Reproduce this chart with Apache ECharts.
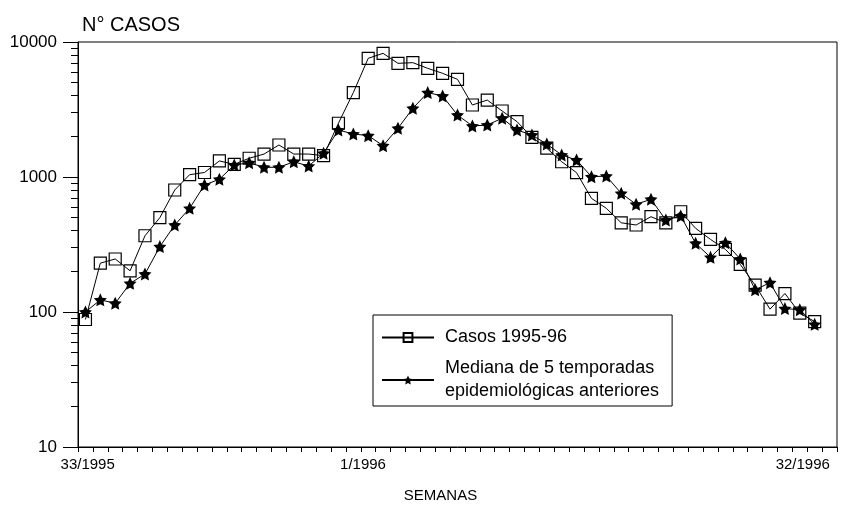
<!DOCTYPE html>
<html>
<head>
<meta charset="utf-8">
<script src="https://cdn.jsdelivr.net/npm/echarts@6/dist/echarts.min.js"></script>
<style>html,body{margin:0;padding:0;background:#fff}#c{width:864px;height:513px}</style>
</head>
<body>
<div id="c"></div>
<script>
// Weekly cases, season 1995-96 (weeks from 33/1995)
const casos = [88,230,247,202,367,500,801,1040,1080,1315,
  1241,1377,1479,1726,1479,1479,1439,2502,4219,7573,
  8240,6950,7030,6380,5860,5290,3415,3715,3083,2570,
  1967,1634,1297,1077,695,586,458,441,508,458,
  553,417,345,291,225,158,105,137,98,85];
// Median of 5 previous seasons
const mediana = [100,123,116,163,191,305,441,586,873,962,
  1227,1277,1180,1180,1297,1205,1500,2228,2083,2025,
  1707,2296,3228,4219,3981,2878,2388,2427,2723,2228,
  2046,1754,1455,1336,1005,1016,757,628,684,480,
  514,323,254,326,247,146,165,106,104,81];
// X tick labels and their place on the week axis
const xTickLabels = ['33/1995','1/1996','32/1996'];
const xTickLabelWeeks = [0.65, 19.15, 48.7];
// Y axis ticks
const yMajorTicks = [10,100,1000,10000];
const yMinorTicks = [20,30,40,50,60,70,80,90,200,300,400,500,600,700,800,900,2000,3000,4000,5000,6000,7000,8000,9000];
const seriesNames = ['Casos 1995-96','Mediana de 5 temporadas\nepidemiológicas anteriores'];

const star = 'path://M0,-10 L2.9,-4 L9.51,-3.09 L4.7,1.5 L5.88,8.09 L0,5 L-5.88,8.09 L-4.7,1.5 L-9.51,-3.09 L-2.9,-4 Z';
const FONT = '"Liberation Sans", Arial, sans-serif';

const GRID = {left: 78, right: 27, top: 42, bottom: 66};
const plotWidth = 864 - GRID.left - GRID.right;

const toPts = arr => arr.map((v, i) => [i + 0.5, v]);
const minorExp = yMinorTicks.map(v => Math.log10(v));

const chart = echarts.init(document.getElementById('c'), null, {renderer: 'canvas'});
chart.setOption({
  animation: false,
  backgroundColor: '#fff',
  textStyle: {fontFamily: FONT, color: '#000'},
  grid: Object.assign({show: true, borderColor: '#000', borderWidth: 1, backgroundColor: 'transparent'}, GRID),
  legend: {
    orient: 'vertical',
    left: 373, top: 315,
    padding: [11, 13, 3, 8],
    itemGap: 8,
    itemWidth: 52, itemHeight: 11,
    borderColor: '#000', borderWidth: 1,
    textStyle: {fontFamily: FONT, fontSize: 18, color: '#000', lineHeight: 23, padding: [0, 0, 0, 6]},
    data: seriesNames
  },
  xAxis: {
    type: 'value', min: 0, max: 51, interval: 1,
    name: 'SEMANAS', nameLocation: 'middle', nameGap: 41,
    nameTextStyle: {fontFamily: FONT, fontSize: 15, color: '#000', padding: [0, 34, 0, 0]},
    axisLine: {show: true, lineStyle: {color: '#000', width: 1}},
    axisTick: {show: true, length: 5, lineStyle: {color: '#000'}},
    axisLabel: {
      show: true, customValues: xTickLabelWeeks, margin: 10,
      fontFamily: FONT, fontSize: 15, color: '#000',
      formatter: v => { const i = xTickLabelWeeks.findIndex(w => Math.abs(w - v) < 1e-6); return i >= 0 ? xTickLabels[i] : ''; }
    },
    splitLine: {show: false}
  },
  yAxis: [{
    type: 'log', logBase: 10, min: 10, max: 10000,
    name: 'N° CASOS', nameLocation: 'end', nameGap: 7,
    nameTextStyle: {fontFamily: FONT, fontSize: 20, color: '#000', align: 'left', padding: [0, 0, 0, 4]},
    axisLine: {show: true, lineStyle: {color: '#000', width: 1}},
    axisTick: {show: true, length: 15, lineStyle: {color: '#000'}},
    axisLabel: {show: true, margin: 21, fontFamily: FONT, fontSize: 17, color: '#000',
      formatter: v => String(Math.round(v))},
    splitLine: {show: false}
  }, {
    // minor log ticks (exponent scale), moved onto the left edge of the plot
    type: 'value', min: 1, max: 4, position: 'right', offset: -plotWidth,
    axisLine: {show: true, onZero: false, lineStyle: {color: 'rgba(0,0,0,0)'}},
    axisTick: {show: true, inside: true, length: 7, customValues: minorExp, lineStyle: {color: '#000', width: 1}},
    axisLabel: {show: false},
    splitLine: {show: false}
  }],
  series: [{
    name: seriesNames[0], type: 'line', yAxisIndex: 0,
    data: toPts(casos),
    symbol: 'rect', symbolSize: 12,
    itemStyle: {color: 'rgba(255,255,255,0)', borderColor: '#000', borderWidth: 1.2},
    lineStyle: {color: '#000', width: 1}
  }, {
    name: seriesNames[1], type: 'line', yAxisIndex: 0,
    data: toPts(mediana),
    symbol: star, symbolSize: 13,
    itemStyle: {color: '#000', borderColor: '#000', borderWidth: 0},
    lineStyle: {color: '#000', width: 1}
  }, {
    type: 'line', yAxisIndex: 1, data: [], silent: true
  }]
});
</script>
</body>
</html>
